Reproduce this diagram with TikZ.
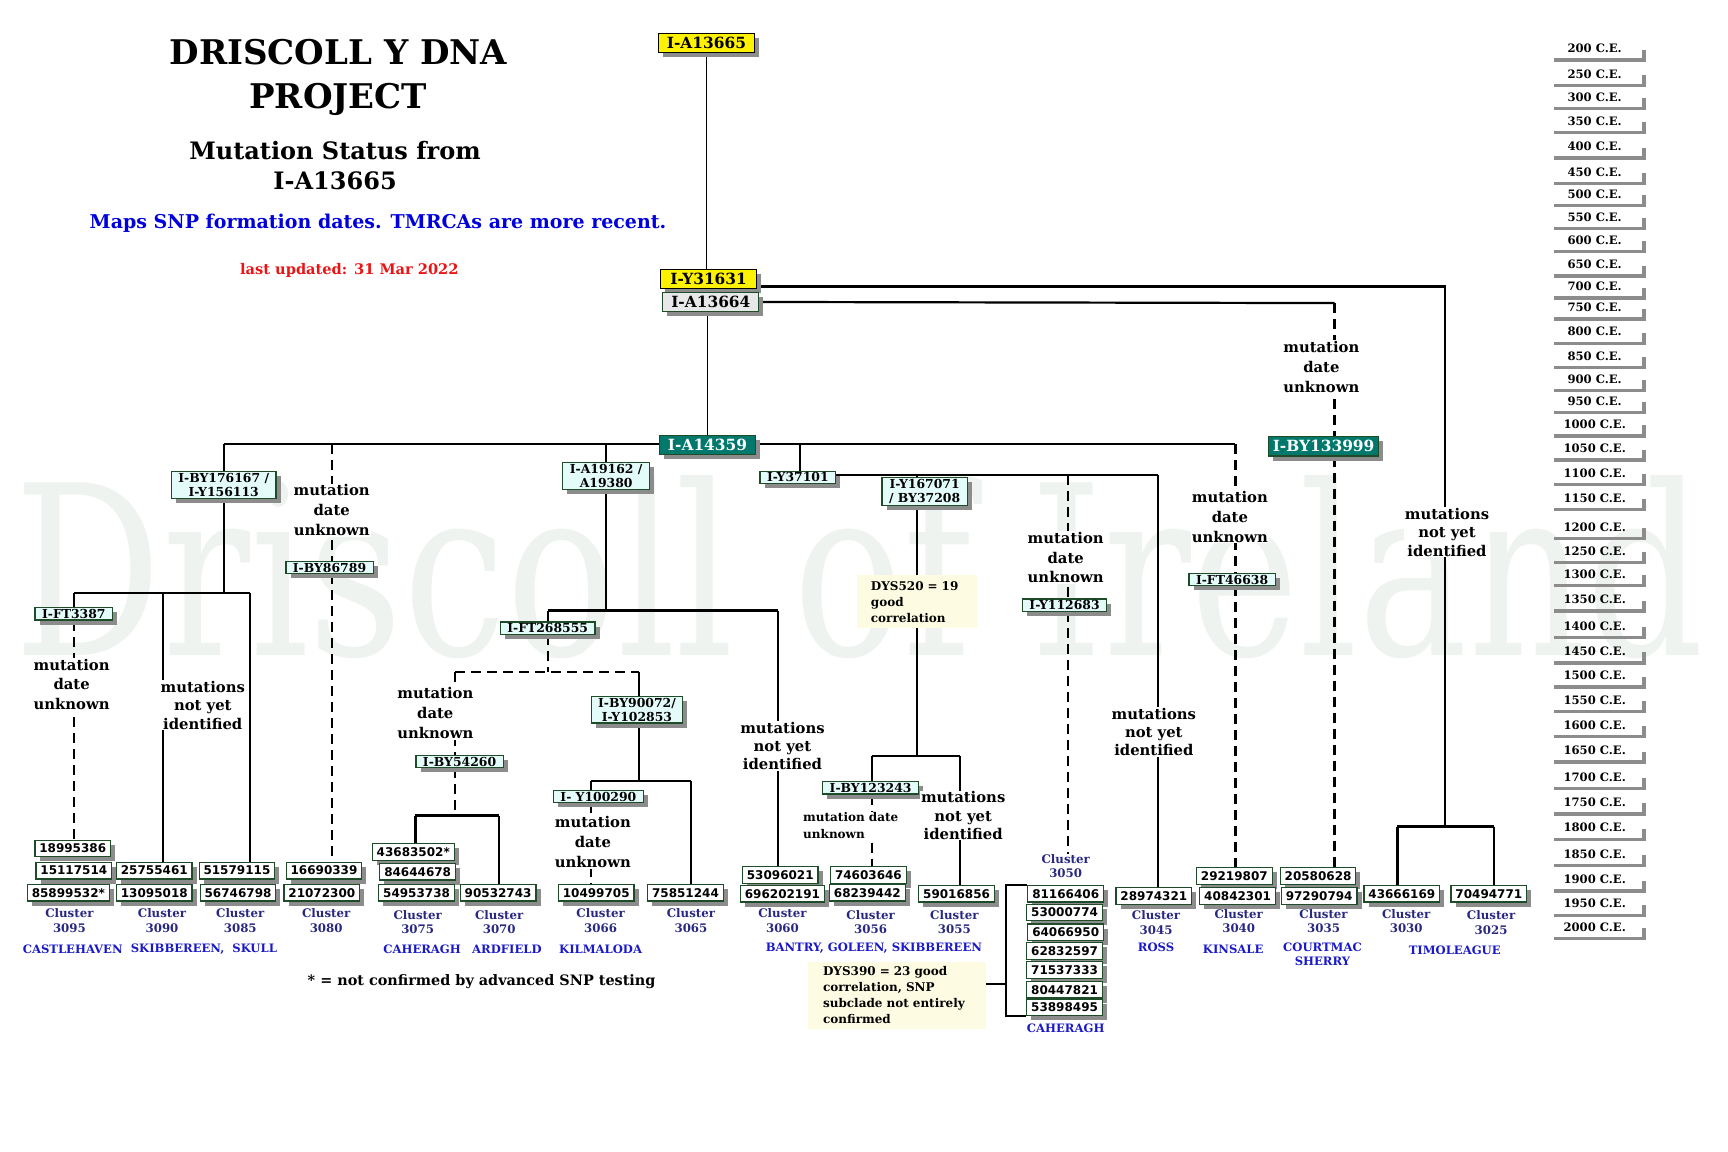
\documentclass[tikz,border=0pt]{standalone}
\usepackage{fontspec}
\setmainfont{DejaVu Serif}
\setsansfont{DejaVu Sans}
\usepackage{graphicx}
\usetikzlibrary{shadows}
\definecolor{bgreen}{RGB}{30,75,40}
\definecolor{snpfill}{RGB}{228,252,249}
\definecolor{tealc}{RGB}{0,120,108}
\definecolor{shadc}{RGB}{140,140,140}
\definecolor{grayfill}{RGB}{232,232,232}
\definecolor{navyc}{RGB}{40,40,130}
\definecolor{placec}{RGB}{25,25,200}
\definecolor{mapsblue}{RGB}{0,0,220}
\definecolor{redc}{RGB}{235,20,20}
\definecolor{notey}{RGB}{253,252,226}
\definecolor{wmc}{RGB}{239,243,239}
\pgfdeclarelayer{wmark}
\pgfdeclarelayer{lines}
\pgfsetlayers{wmark,lines,main}
\tikzset{
  conn/.style={line width=1.1pt, black},
  thinconn/.style={line width=0.7pt, black},
  dconn/.style={conn, dash pattern=on 5pt off 3pt},
  shad/.style={drop shadow={shadow xshift=2.3pt, shadow yshift=-2.3pt, fill=shadc, opacity=1}},
  leaf/.style={shad, draw=bgreen, fill=white, line width=0.6pt, inner xsep=2.2pt, inner ysep=0pt, minimum height=8.3pt, font=\sffamily\bfseries\fontsize{6}{7}\selectfont},
  snpbox/.style={shad, draw=bgreen, fill=snpfill, line width=0.6pt, inner xsep=3.5pt, inner ysep=0.7pt, align=center, font=\bfseries\fontsize{6.2}{7.2}\selectfont},
  bigbox/.style={shad, line width=0.6pt, inner xsep=2pt, inner ysep=0pt, minimum height=9.6pt, minimum width=48pt, font=\bfseries\fontsize{7.7}{9}\selectfont},
  yelbox/.style={bigbox, draw=black, fill=yellow},
  graybox/.style={bigbox, draw=bgreen, fill=grayfill},
  tealbox/.style={bigbox, draw=bgreen, fill=tealc, text=white},
  mdu/.style={fill=white, inner sep=0.5pt, align=center, font=\bfseries\fontsize{7.4}{9.9}\selectfont},
  mny/.style={fill=white, inner sep=0.5pt, align=center, font=\bfseries\fontsize{7.4}{9.1}\selectfont},
  clus/.style={text=navyc, align=center, inner sep=0pt, font=\bfseries\fontsize{5.9}{7.2}\selectfont},
  place/.style={text=placec, align=center, inner sep=0pt, font=\bfseries\fontsize{5.8}{7}\selectfont},
  datel/.style={inner sep=0pt, font=\bfseries\fontsize{5.8}{7}\selectfont},
  ynote/.style={fill=notey, align=left, inner ysep=2pt, font=\bfseries\fontsize{6}{8}\selectfont},
}
\begin{document}
\begin{tikzpicture}[x=0.551pt,y=-0.551pt]
\useasboundingbox (0,0) rectangle (1568,1045);

% watermark
\begin{pgfonlayer}{wmark}
\node[text=wmc, inner sep=0pt] (wm) at (780,515) {\resizebox{845pt}{90pt}{Driscoll of Ireland}};
\end{pgfonlayer}

% titles
\node[align=center, font=\bfseries\fontsize{17}{22}\selectfont] (title) at (307,70) {DRISCOLL Y DNA\\PROJECT};
\node[align=center, font=\bfseries\fontsize{12}{14.9}\selectfont] (subtitle) at (304,150) {Mutation Status from\\I-A13665};
\node[text=mapsblue, font=\bfseries\fontsize{9.5}{11}\selectfont] (maps) at (343,203) {Maps SNP formation dates. TMRCAs are more recent.};
\node[text=redc, font=\bfseries\fontsize{7.3}{9}\selectfont] (upd) at (317,245) {last updated: 31 Mar 2022};
\node[font=\bfseries\fontsize{7.2}{9}\selectfont] (foot) at (437,891) {* = not confirmed by advanced SNP testing};

% top nodes
\node[yelbox] (a13665) at (641,39) {I-A13665};
\node[yelbox] (y31631) at (643,253) {I-Y31631};
\node[graybox] (a13664) at (645,274) {I-A13664};
\node[tealbox] (a14359) at (642,404) {I-A14359};
\node[tealbox] (by133999) at (1201,405) {I-BY133999};

% snp boxes
\node[snpbox] (by176167) at (203,440) {I-BY176167 /\\I-Y156113};
\node[snpbox] (ft3387) at (67,557) {I-FT3387};
\node[snpbox] (by86789) at (299,515) {I-BY86789};
\node[snpbox] (a19162) at (550,432) {I-A19162 /\\A19380};
\node[snpbox] (ft268555) at (497,570) {I-FT268555};
\node[snpbox] (by54260) at (417,691) {I-BY54260};
\node[snpbox] (by90072) at (578,644) {I-BY90072/\\I-Y102853};
\node[snpbox] (y100290) at (543,723) {I- Y100290};
\node[snpbox] (y37101) at (724,433) {I-Y37101};
\node[snpbox] (y167071) at (839,446) {I-Y167071\\/ BY37208};
\node[snpbox] (by123243) at (790,715) {I-BY123243};
\node[snpbox] (y112683) at (966,549) {I-Y112683};
\node[snpbox] (ft46638) at (1118,526) {I-FT46638};

% yellow notes
\node[ynote, minimum width=59.5pt, minimum height=26.4pt, text width=46pt, inner xsep=7pt] (dys520) at (832,546) {DYS520 = 19\\good\\correlation};
\node[ynote, minimum width=88.7pt, minimum height=33.6pt, text width=74pt, inner xsep=7.5pt] (dys390) at (814,903) {DYS390 = 23 good\\correlation, SNP\\subclade not entirely\\confirmed};

% mutation notes
\node[mdu] (u1) at (65,621) {mutation\\date\\unknown};
\node[mny] (u2) at (184,640) {mutations\\not yet\\identified};
\node[mdu] (u3) at (301,463) {mutation\\date\\unknown};
\node[mdu] (u4) at (395,647) {mutation\\date\\unknown};
\node[mdu] (u5) at (538,764) {mutation\\date\\unknown};
\node[mny] (u6) at (710,677) {mutations\\not yet\\identified};
\node[fill=white, inner sep=0.5pt, align=left, font=\bfseries\fontsize{6}{8.3}\selectfont] (u7) at (772,749) {mutation date\\unknown};
\node[mny] (u8) at (874,740) {mutations\\not yet\\identified};
\node[mdu] (u9) at (967,506) {mutation\\date\\unknown};
\node[mny] (u10) at (1047,664) {mutations\\not yet\\identified};
\node[mdu] (u11) at (1116,469) {mutation\\date\\unknown};
\node[mdu] (u12) at (1199,333) {mutation\\date\\unknown};
\node[mny] (u13) at (1313,483) {mutations\\not yet\\identified};

% leaves
\node[leaf] (n18995386) at (66,770) {18995386};
\node[leaf] (n15117514) at (67,790) {15117514};
\node[leaf] (n85899532) at (62,810) {85899532*};
\node[leaf] (n25755461) at (140,790) {25755461};
\node[leaf] (n13095018) at (140,810) {13095018};
\node[leaf] (n51579115) at (215,790) {51579115};
\node[leaf] (n56746798) at (216,810) {56746798};
\node[leaf] (n16690339) at (294,790) {16690339};
\node[leaf] (n21072300) at (292,810) {21072300};
\node[leaf] (n43683502) at (375,773) {43683502*};
\node[leaf] (n84644678) at (379,791) {84644678};
\node[leaf] (n54953738) at (378,810) {54953738};
\node[leaf] (n90532743) at (452,810) {90532743};
\node[leaf] (n10499705) at (541,810) {10499705};
\node[leaf] (n75851244) at (622,810) {75851244};
\node[leaf] (n53096021) at (708,794) {53096021};
\node[leaf] (n696202191) at (710,811) {696202191};
\node[leaf] (n74603646) at (788,794) {74603646};
\node[leaf] (n68239442) at (787,810) {68239442};
\node[leaf] (n59016856) at (868,811) {59016856};
\node[leaf] (n81166406) at (967,811) {81166406};
\node[leaf] (n53000774) at (966,828) {53000774};
\node[leaf] (n64066950) at (967,846) {64066950};
\node[leaf] (n62832597) at (966,863) {62832597};
\node[leaf] (n71537333) at (966,880) {71537333};
\node[leaf] (n80447821) at (966,898) {80447821};
\node[leaf] (n53898495) at (966,914) {53898495};
\node[leaf] (n28974321) at (1047,813) {28974321};
\node[leaf] (n29219807) at (1120,795) {29219807};
\node[leaf] (n40842301) at (1123,813) {40842301};
\node[leaf] (n20580628) at (1196,795) {20580628};
\node[leaf] (n97290794) at (1197,813) {97290794};
\node[leaf] (n43666169) at (1272,811) {43666169};
\node[leaf] (n70494771) at (1351,811) {70494771};

% cluster labels
\node[clus] (cl3095) at (63,835.5) {Cluster\\3095};
\node[clus] (cl3090) at (147,835.5) {Cluster\\3090};
\node[clus] (cl3085) at (218,835.5) {Cluster\\3085};
\node[clus] (cl3080) at (296,835.5) {Cluster\\3080};
\node[clus] (cl3075) at (379,836.5) {Cluster\\3075};
\node[clus] (cl3070) at (453,836.5) {Cluster\\3070};
\node[clus] (cl3066) at (545,835.5) {Cluster\\3066};
\node[clus] (cl3065) at (627,835.5) {Cluster\\3065};
\node[clus] (cl3060) at (710,835.5) {Cluster\\3060};
\node[clus] (cl3056) at (790,836.5) {Cluster\\3056};
\node[clus] (cl3055) at (866,836.5) {Cluster\\3055};
\node[clus] (cl3050) at (967,786) {Cluster\\3050};
\node[clus] (cl3045) at (1049,837) {Cluster\\3045};
\node[clus] (cl3040) at (1124,836) {Cluster\\3040};
\node[clus] (cl3035) at (1201,836) {Cluster\\3035};
\node[clus] (cl3030) at (1276,836) {Cluster\\3030};
\node[clus] (cl3025) at (1353,837) {Cluster\\3025};

% places
\node[place] (p1) at (66,861) {CASTLEHAVEN};
\node[place] (p2) at (185,861) {SKIBBEREEN,\ \ SKULL};
\node[place] (p3) at (383,861) {CAHERAGH};
\node[place] (p4) at (460,861) {ARDFIELD};
\node[place] (p5) at (545,861) {KILMALODA};
\node[place] (p6) at (793,860) {BANTRY, GOLEEN, SKIBBEREEN};
\node[place] (p7) at (1049,860) {ROSS};
\node[place] (p8) at (1119,861) {KINSALE};
\node[place] (p9) at (1200,865.5) {COURTMAC\\SHERRY};
\node[place] (p10) at (1320,862) {TIMOLEAGUE};
\node[place] (p11) at (967,933) {CAHERAGH};

% date scale
\foreach \yr/\yy in {200/44,250/67,300/88,350/110,400/133,450/156,500/176,550/197,600/218,650/240,700/260,750/279,800/301,850/323,900/344,950/364,1000/385,1050/407,1100/429,1150/452,1200/478,1250/500,1300/521,1350/544,1400/568,1450/591,1500/613,1550/635,1600/658,1650/681,1700/705,1750/728,1800/751,1850/775,1900/798,1950/820,2000/841}{
  \node[datel] (dt\yr) at (1447,\yy) {\yr{} C.E.};
  \fill[shadc] (1410,\yy+9) rectangle (1494,\yy+12);
  \fill[shadc] (1490,\yy+1) rectangle (1494,\yy+12);
}

% connectors
\begin{pgfonlayer}{lines}
\coordinate (ya) at (1311,260);
\coordinate (tj) at (1311,750);
\coordinate (bj) at (1211,275);
\coordinate (m1) at (203,403);
\coordinate (m2) at (1121,403);
\coordinate (m3) at (301,403);
\coordinate (m4) at (550,403);
\coordinate (m5) at (726,403);
\coordinate (b1j) at (203,538);
\coordinate (b1l) at (67,538);
\coordinate (b1m) at (148,538);
\coordinate (b1r) at (227,538);
\coordinate (b3j) at (550,554);
\coordinate (b3l) at (497,554);
\coordinate (b3r) at (706,554);
\coordinate (b4j) at (497,610);
\coordinate (b4l) at (413,610);
\coordinate (b4r) at (580,610);
\coordinate (b5j) at (413,740);
\coordinate (b5l) at (377,740);
\coordinate (b5r) at (453,740);
\coordinate (b6j) at (580,709);
\coordinate (b6l) at (536,709);
\coordinate (b6r) at (627,709);
\coordinate (c1) at (1051,431);
\coordinate (c2) at (832,431);
\coordinate (c3) at (832,686);
\coordinate (c3l) at (791,686);
\coordinate (c3r) at (871,686);
\coordinate (c4) at (969,431);
\coordinate (tl) at (1268,750);
\coordinate (tr) at (1356,750);
\coordinate (kb) at (913,0);
\coordinate (kj) at (913,893);

\draw[thinconn] (a13665.south) -- (a13665.south |- y31631.north);
\draw[conn] (y31631.east |- ya) -- (ya) -- (tj);
\draw[conn] (tl) -- (tr);
\draw[conn] (tl) -- (tl |- n43666169.north);
\draw[conn] (tr) -- (tr |- n70494771.north);
\draw[conn] (a13664.east) -- (bj);
\draw[dconn] (bj) -- (bj |- by133999.north);
\draw[dconn] (bj |- by133999.south) -- (bj |- n20580628.north);
\draw[thinconn] (a14359.north |- a13664.south) -- (a14359.north);
\draw[conn] (m1) -- (m2);
% branch 1
\draw[conn] (m1) -- (by176167.north);
\draw[conn] (by176167.south) -- (b1j);
\draw[conn] (b1l) -- (b1r);
\draw[conn] (b1l) -- (ft3387.north);
\draw[dconn] (ft3387.south) -- (ft3387.south |- n18995386.north);
\draw[conn] (b1m) -- (b1m |- n25755461.north);
\draw[conn] (b1r) -- (b1r |- n51579115.north);
% branch 2
\draw[dconn] (m3) -- (m3 |- by86789.north);
\draw[dconn] (m3 |- by86789.south) -- (m3 |- n16690339.north);
% branch 3
\draw[conn] (m4) -- (a19162.north);
\draw[conn] (a19162.south) -- (b3j);
\draw[conn] (b3l) -- (b3r);
\draw[conn] (b3r) -- (b3r |- n53096021.north);
\draw[conn] (b3l) -- (ft268555.north);
\draw[dconn] (ft268555.south) -- (b4j);
\draw[dconn] (b4l) -- (b4r);
\draw[dconn] (b4l) -- (b4l |- by54260.north);
\draw[dconn] (b4l |- by54260.south) -- (b5j);
\draw[conn] (b5l) -- (b5r);
\draw[conn] (b5l) -- (b5l |- n43683502.north);
\draw[conn] (b5r) -- (b5r |- n90532743.north);
\draw[conn] (b4r) -- (b4r |- by90072.north);
\draw[conn] (b4r |- by90072.south) -- (b6j);
\draw[conn] (b6l) -- (b6r);
\draw[conn] (b6l) -- (b6l |- y100290.north);
\draw[dconn] (b6l |- y100290.south) -- (b6l |- n10499705.north);
\draw[conn] (b6r) -- (b6r |- n75851244.north);
% branch 4
\draw[conn] (m5) -- (m5 |- y37101.north);
\draw[conn] (y37101.east |- c1) -- (c1);
\draw[conn] (c2) -- (c2 |- y167071.north);
\draw[conn] (c2 |- y167071.south) -- (c3);
\draw[conn] (c3l) -- (c3r);
\draw[conn] (c3l) -- (c3l |- by123243.north);
\draw[dconn] (c3l |- by123243.south) -- (c3l |- n74603646.north);
\draw[conn] (c3r) -- (c3r |- n59016856.north);
\draw[dconn] (c4) -- (c4 |- y112683.north);
\draw[dconn] (c4 |- y112683.south) -- (c4 |- cl3050.north);
\draw[conn] (c1) -- (c1 |- n28974321.north);
% branch 5
\draw[dconn] (m2) -- (m2 |- ft46638.north);
\draw[dconn] (m2 |- ft46638.south) -- (m2 |- n29219807.north);
% bracket 3050
\draw[conn] (n81166406.north west) -- (kb |- n81166406.north west) -- (kb |- n53898495.south west) -- (n53898495.south west);
\draw[conn] (kj -| dys390.east) -- (kj);
\end{pgfonlayer}
\end{tikzpicture}
\end{document}
